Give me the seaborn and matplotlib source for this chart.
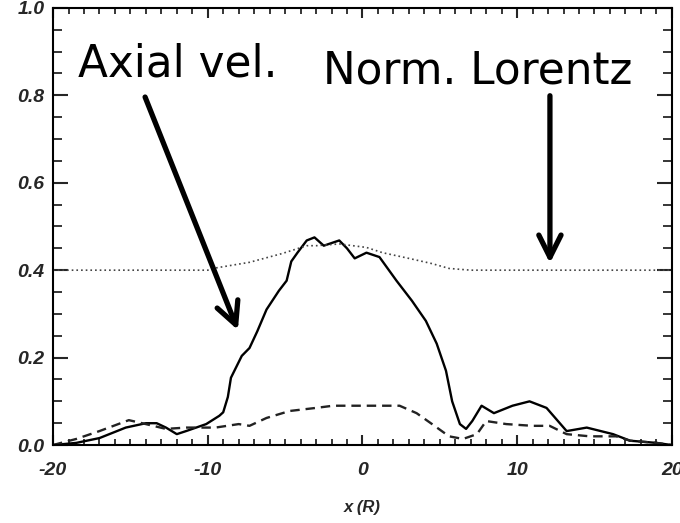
import numpy as np
import pandas as pd
import matplotlib
matplotlib.use("Agg")
import matplotlib.pyplot as plt
import seaborn as sns
from matplotlib.ticker import MultipleLocator

# axial velocity (solid)
vel_x = [-20, -18.5, -17, -15.3, -14, -13.3, -12.7, -12.0, -11.4, -10.1, -9.25, -9.0,
         -8.7, -8.5, -7.8, -7.3, -6.8, -6.2, -5.4, -4.9, -4.6, -4.2, -3.6, -3.1, -2.5,
         -1.5, -1.0, -0.5, 0.26, 1.1, 2.2, 3.2, 4.1, 4.8, 5.4, 5.8, 6.3, 6.7, 7.1, 7.7,
         8.5, 9.7, 10.8, 11.9, 13.2, 14.5, 16.2, 17.3, 19.0, 20]
vel_y = [0.0, 0.005, 0.016, 0.04, 0.05, 0.05, 0.04, 0.025, 0.032, 0.048, 0.067, 0.075,
         0.11, 0.154, 0.204, 0.222, 0.26, 0.31, 0.353, 0.376, 0.42, 0.44, 0.468, 0.475, 0.456,
         0.468, 0.45, 0.427, 0.44, 0.43, 0.376, 0.33, 0.284, 0.232, 0.17, 0.1, 0.048, 0.037, 0.055, 0.09,
         0.073, 0.09, 0.1, 0.085, 0.032, 0.04, 0.025, 0.01, 0.005, 0.0]

# second quantity (dashed)
dash_x = [-20, -19.8, -18.5, -17, -15.1, -14, -12.7, -11.4, -9.5, -8.0, -7.3, -6.2, -4.7,
          -3.0, -1.9, -1.0, 0.26, 2.4, 3.5, 4.5, 5.6, 6.5, 7.4, 8.0, 9.3, 11.0, 12.1, 13.2,
          14.7, 16.4, 17.3, 19.0, 20]
dash_y = [0.0, 0.002, 0.014, 0.032, 0.057, 0.048, 0.037, 0.04, 0.04, 0.048, 0.044, 0.062, 0.078,
          0.085, 0.09, 0.09, 0.09, 0.09, 0.073, 0.048, 0.02, 0.014, 0.025, 0.055, 0.048, 0.044, 0.044, 0.025,
          0.02, 0.02, 0.01, 0.005, 0.0]

# normalized Lorentz force (dotted)
lor_x = [-20, -10, -9.5, -7.3, -5.2, -3.6, -3.0, -1.5, 0.26, 1.3, 3.0, 4.5, 5.6, 7, 20]
lor_y = [0.40, 0.40, 0.405, 0.418, 0.438, 0.456, 0.456, 0.46, 0.452, 0.44, 0.427, 0.415, 0.404, 0.40, 0.40]

x_ticks = [-20, -10, 0, 10, 20]
y_ticks = [0.0, 0.2, 0.4, 0.6, 0.8, 1.0]

sns.set_style("ticks")
plt.rcParams["axes.unicode_minus"] = False

fig, ax = plt.subplots(figsize=(6.8, 5.23), dpi=100)
fig.subplots_adjust(left=0.078, right=0.988, bottom=0.149, top=0.985)

sns.lineplot(x=vel_x, y=vel_y, ax=ax, color="black", lw=1.7, linestyle="-")
sns.lineplot(x=dash_x, y=dash_y, ax=ax, color="#222222", lw=1.7, dashes=False,
             linestyle=(0, (4, 2.5)))
sns.lineplot(x=lor_x, y=lor_y, ax=ax, color="#444444", lw=1.2, linestyle=(0, (1, 1.8)))

ax.set_xlim(-20, 20)
ax.set_ylim(0, 1.0)
ax.set_xticks(x_ticks)
ax.set_yticks(y_ticks)
ax.set_xticklabels([str(v) for v in x_ticks])
ax.set_yticklabels([f"{v:.1f}" for v in y_ticks])
ax.xaxis.set_minor_locator(MultipleLocator(1))
ax.yaxis.set_minor_locator(MultipleLocator(0.05))

for s in ax.spines.values():
    s.set_linewidth(1.5)
    s.set_color("black")

ax.tick_params(axis="x", which="major", direction="in", length=7, width=1.5, top=True, pad=12)
ax.tick_params(axis="x", which="minor", direction="in", length=4.5, width=1.3, top=True)
ax.tick_params(axis="y", which="major", direction="in", length=11, width=1.5, right=True, pad=6)
ax.tick_params(axis="y", which="minor", direction="in", length=6.5, width=1.3, right=True)

tick_font = dict(family="Liberation Sans", weight="bold", style="italic", size=14)
for lab in ax.get_xticklabels() + ax.get_yticklabels():
    lab.set_fontproperties(matplotlib.font_manager.FontProperties(**tick_font))

ax.set_xlabel("x (R)", family="Liberation Sans", weight="bold", style="italic",
              size=12, labelpad=15)
ax.set_ylabel("")

arrow = dict(arrowstyle="->, head_length=0.4, head_width=0.2", lw=3.8, color="black",
             mutation_scale=40, shrinkA=0, shrinkB=0)
ax.annotate("", xy=(-8.05, 0.263), xytext=(-14.05, 0.796), arrowprops=arrow)
ax.annotate("", xy=(12.12, 0.416), xytext=(12.12, 0.799), arrowprops=arrow)

ax.text(-18.38, 0.842, "Axial vel.", family="DejaVu Sans", size=31.5,
        ha="left", va="baseline", color="black")
ax.text(-2.55, 0.828, "Norm. Lorentz", family="DejaVu Sans", size=31.5,
        ha="left", va="baseline", color="black")

fig.savefig("out.png", dpi=100)
